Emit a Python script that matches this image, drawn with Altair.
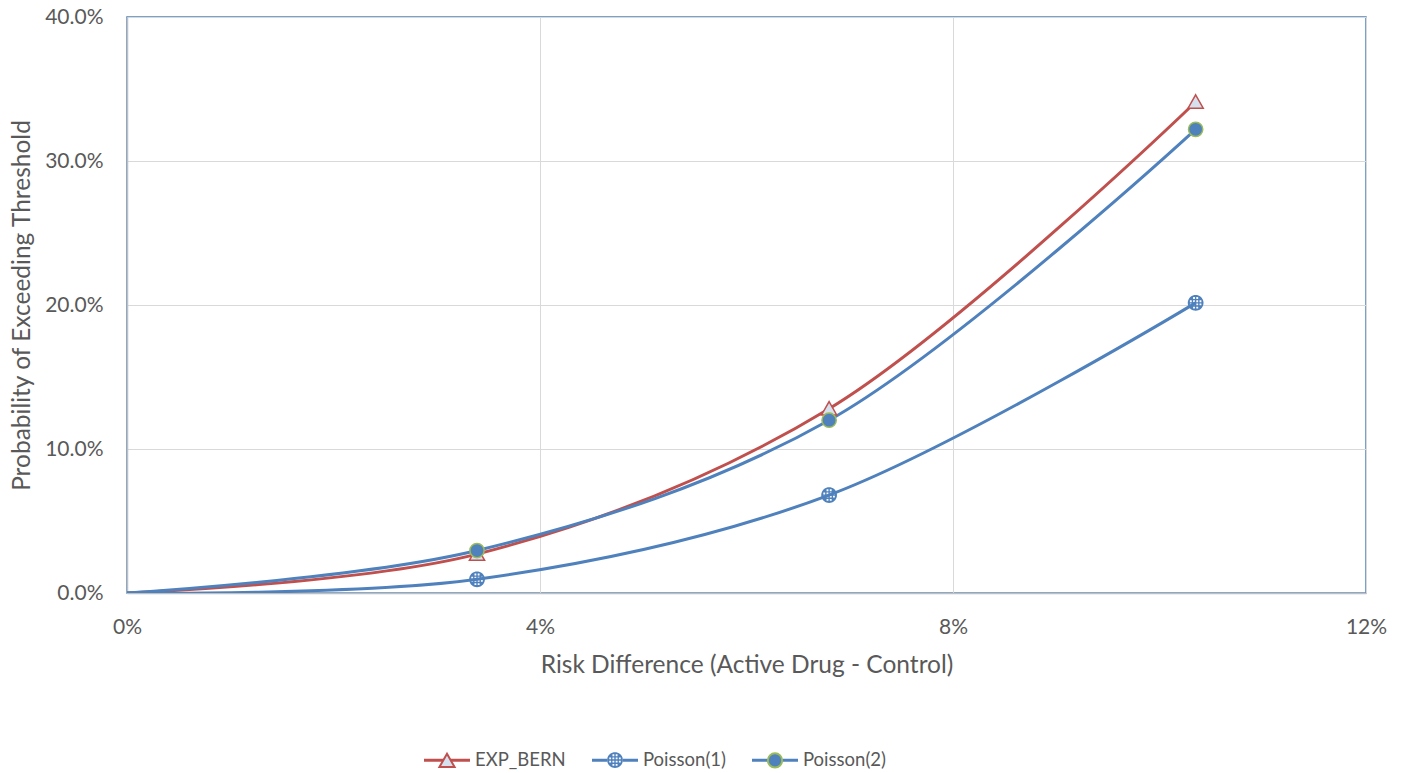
import math
import altair as alt
import pandas as pd

# ---- data ----
risk_diff = [0.0, 0.0339, 0.0680, 0.1035]
exp_bern = [0.0, 0.027, 0.128, 0.341]
poisson1 = [0.0, 0.0095, 0.068, 0.2015]
poisson2 = [0.0, 0.0295, 0.120, 0.322]
series_names = ["EXP_BERN", "Poisson(1)", "Poisson(2)"]
x_ticks = [0, 0.04, 0.08, 0.12]
y_ticks = [0, 0.1, 0.2, 0.3, 0.4]

rows = []
for name, vals in zip(series_names, [exp_bern, poisson1, poisson2]):
    for x, y in zip(risk_diff, vals):
        rows.append({"rd": x, "p": y, "series": name})
df = pd.DataFrame(rows)

RED = "#c0504d"
BLUE = "#4f81bd"
GREEN = "#9bbb59"
TRI_FILL = "#d6e1ef"
TEXT = "#595959"
FONT = "Lato"

SYM = 2116                 # symbol area -> 46 px wide unit box
U = 1 / 23.0               # one pixel in symbol units


def f(v):
    return f"{v:.4f}"


# ---- marker shapes (custom SVG paths in a -1..1 box) ----
ext = "M-1,0L-1,0M1,0L1,0"         # zero-length ends: same bounds for every legend symbol
tri = "M0,-0.31L0.33,0.27L-0.33,0.27Z"
r = 0.31
circle = f"M{-r},0A{r},{r} 0 1,0 {r},0A{r},{r} 0 1,0 {-r},0Z"

# Poisson(1): solid circle (drawn without outline) with a grid of square holes
r1 = r + 0.75 * U
pts = []
for k in range(36):
    t = 2 * math.pi * k / 36
    pts.append((r1 * math.cos(t), r1 * math.sin(t)))   # clockwise on screen
grid_circle = "M" + "L".join(f"{f(x)},{f(y)}" for x, y in pts) + "Z"
hs = 0.08
for cx in [-0.21, -0.07, 0.07, 0.21]:
    for cy in [-0.21, -0.07, 0.07, 0.21]:
        if abs(cx) > 0.1 and abs(cy) > 0.1:
            continue
        x0, y0 = cx - hs / 2, cy - hs / 2
        # counter-clockwise on screen -> hole
        grid_circle += (f"M{f(x0)},{f(y0)}L{f(x0)},{f(y0 + hs)}"
                        f"L{f(x0 + hs)},{f(y0 + hs)}L{f(x0 + hs)},{f(y0)}Z")


# legend line symbols (3 parallel strokes -> ~3 px line), broken around the marker
def line_path(gap):
    out = ""
    for dy in (-0.5 * U, 0, 0.5 * U):
        out += f"M-1,{f(dy)}L{f(-gap)},{f(dy)}M{f(gap)},{f(dy)}L1,{f(dy)}"
    return out


leg_lines = [line_path(0.17), line_path(r1), line_path(r)]

legend_x = 296
legend_y = 719
LFS = 18.5


def legend(hidden):
    kw = dict(title=None, orient="none", direction="horizontal",
              legendX=legend_x, legendY=legend_y, symbolSize=SYM, symbolStrokeWidth=2,
              labelFont=FONT, labelFontSize=LFS, labelColor=TEXT,
              labelOffset=4, columnPadding=22)
    if hidden:
        kw.update(labelOpacity=0)
    return alt.Legend(**kw)


x_enc = alt.X("rd:Q", scale=alt.Scale(domain=[0, 0.12], nice=False),
              axis=alt.Axis(values=x_ticks, format=".0%", title="Risk Difference (Active Drug - Control)",
                            labelPadding=23, titlePadding=16, grid=True, labelFlush=False))
y_enc = alt.Y("p:Q", scale=alt.Scale(domain=[0, 0.4], nice=False),
              axis=alt.Axis(values=y_ticks, format=".1%", title="Probability of Exceeding Threshold",
                            labelPadding=24, titlePadding=10, grid=True, labelFlush=False))

base = alt.Chart(df)

lines = base.mark_line(strokeWidth=3, interpolate="catmull-rom", clip=True).encode(
    x=x_enc,
    y=y_enc,
    color=alt.Color("series:N", scale=alt.Scale(domain=series_names, range=[RED, BLUE, BLUE]),
                    legend=None),
    order=alt.Order("rd:Q"),
)

markers = base.transform_filter("datum.rd > 0").transform_calculate(
    m="datum.series"
).mark_point(size=SYM, strokeWidth=1.5, opacity=1, fillOpacity=1).encode(
    x="rd:Q",
    y="p:Q",
    shape=alt.Shape("m:N", scale=alt.Scale(domain=series_names, range=[tri, grid_circle, circle]),
                    legend=None),
    fill=alt.Fill("m:N", scale=alt.Scale(domain=series_names, range=[TRI_FILL, BLUE, BLUE]),
                  legend=None),
    stroke=alt.Stroke("m:N", scale=alt.Scale(domain=series_names, range=[RED, "transparent", GREEN]),
                      legend=None),
)

# legend-only layers (no rows drawn; the legends come from the scales' domains)
leg1 = base.transform_filter("false").transform_calculate(
    l1="datum.series"
).mark_point(size=SYM, strokeWidth=2, opacity=1, fillOpacity=1).encode(
    x="rd:Q",
    y="p:Q",
    shape=alt.Shape("l1:N", scale=alt.Scale(domain=series_names, range=leg_lines),
                    legend=legend(False)),
    stroke=alt.Stroke("l1:N", scale=alt.Scale(domain=series_names, range=[RED, BLUE, BLUE]),
                      legend=legend(False)),
)

leg2 = base.transform_filter("false").transform_calculate(
    l2="datum.series"
).mark_point(size=SYM, strokeWidth=2, opacity=1, fillOpacity=1).encode(
    x="rd:Q",
    y="p:Q",
    shape=alt.Shape("l2:N", scale=alt.Scale(domain=series_names,
                                            range=[tri + ext, grid_circle + ext, circle + ext]),
                    legend=legend(True)),
    fill=alt.Fill("l2:N", scale=alt.Scale(domain=series_names, range=[TRI_FILL, BLUE, BLUE]),
                  legend=legend(True)),
    stroke=alt.Stroke("l2:N", scale=alt.Scale(domain=series_names, range=[RED, "transparent", GREEN]),
                      legend=legend(True)),
)

chart = alt.layer(lines, markers, leg1, leg2).resolve_scale(
    color="independent", shape="independent", fill="independent", stroke="independent"
).properties(
    width=1239, height=576,
    padding={"left": 127, "top": 17, "right": 36, "bottom": 180},
    autosize=alt.AutoSizeParams(type="none"),
    background="white",
).configure_view(
    stroke=BLUE, strokeWidth=1.5
).configure_axis(
    gridColor="#d9d9d9", gridWidth=1, domainColor="#bfbfbf", domainWidth=1.5, ticks=False,
    labelFont=FONT, labelFontSize=21, labelColor=TEXT,
    titleFont=FONT, titleFontSize=24.5, titleColor=TEXT, titleFontWeight="normal",
)

chart.save("out.html", embed_options={"renderer": "svg", "actions": False})
